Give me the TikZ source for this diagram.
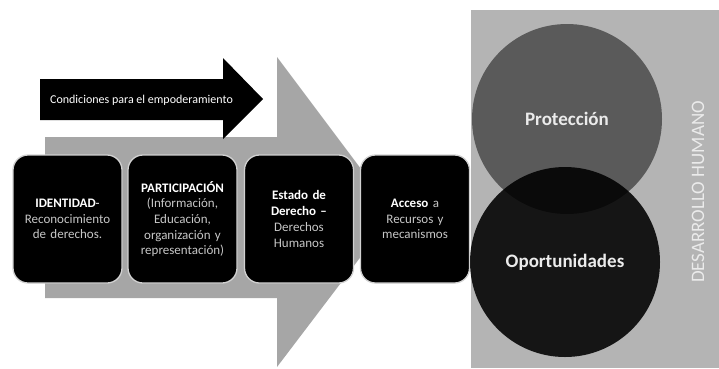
\documentclass[tikz,border=0pt]{standalone}
\usepackage{fontspec}
\setmainfont{Carlito}
\usepackage{xcolor}
\definecolor{grisflecha}{HTML}{A6A6A6}
\definecolor{grispanel}{HTML}{B4B4B4}
\definecolor{grisprot}{HTML}{5A5A5A}
\newcommand{\tenue}[1]{{\color{black!22}#1}}
\begin{document}
\begin{tikzpicture}[x=1pt,y=1pt]
\tikzstyle{every node}+=[inner sep=0pt]
\tikzstyle{etapa}=[draw=black!18, line width=1.3pt, fill=black, rounded corners=15pt, minimum width=109pt, minimum height=128pt, text width=104pt, align=center, text=white, font=\fontsize{13}{15.7}\selectfont]
\tikzstyle{circulo}=[circle, minimum size=190pt]
\tikzstyle{rotulo}=[text=white!92!black, font=\fontsize{19}{22}\selectfont\bfseries]
\useasboundingbox (0,0) rectangle (719,-368);
% flecha gris de fondo
\fill [grisflecha] (45,-137) -- (277,-137) -- (277,-57) -- (394,-213) -- (277,-367) -- (277,-298) -- (45,-298) -- cycle;
% flecha negra
\fill [black] (40,-79) -- (223,-79) -- (223,-58) -- (263,-99) -- (223,-139) -- (223,-120) -- (40,-120) -- cycle;
\node [text=white, font=\fontsize{12}{14}\selectfont] (condiciones) at (141.5,-100) {Condiciones para el empoderamiento};
% etapas
\node [etapa] (identidad) at (67.5,-219) {\textbf{IDENTIDAD}-\\\tenue{Reconocimiento de derechos.}};
\node [etapa] (participacion) at (182.5,-219) {\textbf{PARTICIPACIÓN}\\\tenue{(Información,\\Educación,\\organización y\\representación)}};
\node [etapa] (estado) at (299,-219) {\textbf{Estado de\\Derecho –}\\\tenue{Derechos\\Humanos}};
\node [etapa] (acceso) at (415,-219) {\textbf{Acceso} \tenue{a\\Recursos y\\mecanismos}};
% desarrollo humano
\fill [grispanel] (471,-10) rectangle (719,-368);
\node [circulo, fill=grisprot] (proteccion) at (567,-119) {};
\node [circulo, fill=black, fill opacity=0.88] (oportunidades) at (565,-262) {};
\node [rotulo] at (proteccion) {Protección};
\node [rotulo] at (oportunidades) {Oportunidades};
\node [rotate=90, text=white!92!black, font=\fontsize{19}{22}\selectfont] (desarrollo) at (698,-192) {DESARROLLO HUMANO};
\end{tikzpicture}
\end{document}
